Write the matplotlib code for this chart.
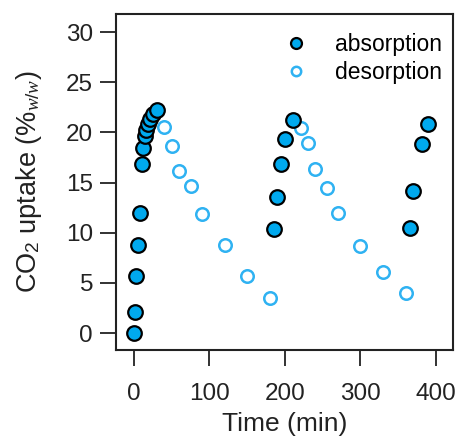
import numpy as np
from matplotlib import pyplot as plt

plt.rcParams['font.family'] = ['Liberation Sans', 'DejaVu Sans']
plt.rcParams['mathtext.fontset'] = 'custom'
plt.rcParams['mathtext.rm'] = 'Liberation Sans'
plt.rcParams['mathtext.it'] = 'Liberation Serif:italic'

# absorption points (min, % w/w)
abs_time = [0, 1, 3, 5, 8, 10, 12, 14, 16, 18, 21, 25, 30,
            185, 190, 195, 200, 211,
            365, 370, 381, 390]
abs_uptake = [0, 2.1, 5.7, 8.8, 12.0, 16.9, 18.4, 19.6, 20.2, 20.8, 21.3, 21.8, 22.2,
              10.4, 13.6, 16.9, 19.3, 21.2,
              10.5, 14.2, 18.8, 20.8]

# desorption points
des_time = [40, 50, 60, 75, 90, 120, 150, 180,
            221, 230, 240, 255, 270, 300, 330, 360]
des_uptake = [20.5, 18.6, 16.2, 14.7, 11.9, 8.8, 5.7, 3.5,
              20.4, 18.9, 16.4, 14.5, 12.0, 8.7, 6.1, 3.95]

fig = plt.figure(figsize=(4.59, 4.38), dpi=100)
ax = fig.add_axes([0.2527, 0.2009, 0.7342, 0.7671])

ax.plot(abs_time, abs_uptake, 'o', ms=10.5, mfc='#00A9EE', mec='black', mew=1.6,
        label='absorption', zorder=3)
ax.plot(des_time, des_uptake, 'o', ms=9, mfc='white', mec='#2FB2F2', mew=1.8,
        label='desorption', zorder=2)

ax.set_xlim(-23.8, 422.5)
ax.set_ylim(-1.69, 31.8)
ax.set_xticks([0, 100, 200, 300, 400])
ax.set_yticks([0, 5, 10, 15, 20, 25, 30])

for s in ax.spines.values():
    s.set_linewidth(1.5)
    s.set_color('#222222')
ax.tick_params(direction='out', length=11.5, width=1.3, labelsize=17.5,
               color='#222222', labelcolor='#222222')
ax.tick_params(axis='x', pad=12)
ax.tick_params(axis='y', pad=5)

ax.set_xlabel('Time (min)', fontsize=19, labelpad=5, color='#222222')
ax.set_ylabel('CO$_2$ uptake (%$_{w/w}$)', fontsize=19.5, labelpad=16, color='#222222')

ax.legend(loc='upper right', bbox_to_anchor=(1.0, 0.979), frameon=False,
          fontsize=16.5, markerscale=0.75, handletextpad=0.9, borderaxespad=0.1,
          labelspacing=0.25, handlelength=1.6)

plt.savefig('out.png', dpi=100)
